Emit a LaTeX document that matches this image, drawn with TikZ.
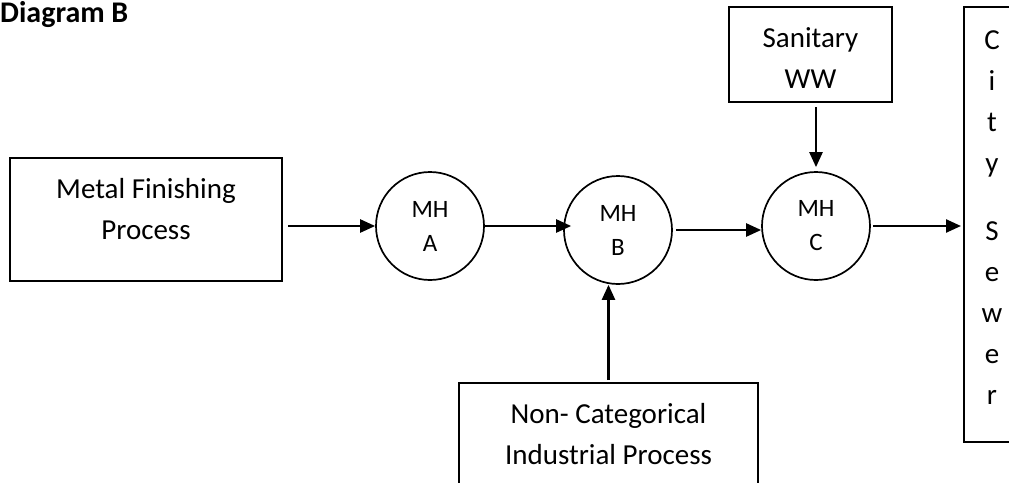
\documentclass[tikz,border=0pt]{standalone}
\usepackage{fontspec}
\setmainfont{Carlito}
\usetikzlibrary{arrows.meta}
\tikzset{
  procbox/.style={draw, line width=2pt, inner sep=0pt},
  manhole/.style={draw, circle, line width=1.7pt, minimum size=108pt, inner sep=0pt, align=center, font=\fontsize{25}{34}\selectfont},
  txt/.style={align=center, inner sep=0pt, font=\fontsize{29}{41}\selectfont},
  flow/.style={line width=2.4pt, -{Triangle[length=15pt,width=13pt]}}
}
\begin{document}
\begin{tikzpicture}[x=1pt,y=-1pt]
\useasboundingbox (0,0) rectangle (1009,482);
\clip (0,0) rectangle (1009,482);
\node[anchor=base west, inner sep=0pt, font=\fontsize{30}{36}\selectfont\bfseries] (title) at (0,22) {Diagram B};
\node[procbox, minimum width=272pt, minimum height=123pt] (metal) at (146,219.5) {};
\node[txt] (metaltxt) at (146,209) {Metal Finishing\\Process};
\node[procbox, minimum width=163pt, minimum height=95pt] (sanitary) at (810.5,54.5) {};
\node[txt] (sanitarytxt) at (810.5,58) {Sanitary\\WW};
\node[procbox, minimum width=299pt, minimum height=177pt] (noncat) at (608.5,471.5) {};
\node[txt] (noncattxt) at (608.5,434) {Non- Categorical\\Industrial Process};
\node[procbox, minimum width=96pt, minimum height=435pt] (sewer) at (1012,224.5) {};
\node[txt] (sewertxt) at (992,218) {C\\i\\t\\y\\[27pt]S\\e\\w\\e\\r};
\node[manhole] (mha) at (430,226) {MH\\A};
\node[manhole] (mhb) at (618,230) {MH\\B};
\node[manhole] (mhc) at (816,226) {MH\\C};
\draw[flow, shorten <=5pt] (metal.east |- mha) -- (mha.west);
\draw[flow, shorten >=-8pt] (mha.east) -- (mha.east -| mhb.west);
\draw[flow, shorten <=3pt] (mhb.east) -- (mhb.east -| mhc.west);
\draw[flow, shorten <=2pt, shorten >=2pt] (mhc.east) -- (mhc.east -| sewer.west);
\draw[flow, shorten <=4pt, shorten >=4pt] (sanitary.south -| mhc) -- (mhc.north);
\draw[flow, shorten <=2pt] (noncat.north) -- (noncat.north |- mhb.south);
\end{tikzpicture}
\end{document}
